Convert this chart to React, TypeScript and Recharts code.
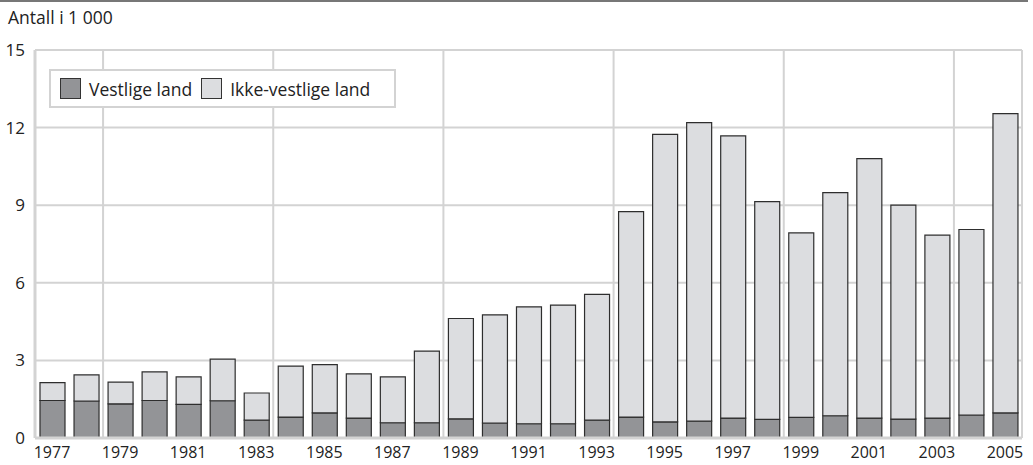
import { BarChart, Bar, XAxis, YAxis, CartesianGrid } from 'recharts';

const years = [
  1977, 1978, 1979, 1980, 1981, 1982, 1983, 1984, 1985, 1986, 1987, 1988, 1989, 1990, 1991,
  1992, 1993, 1994, 1995, 1996, 1997, 1998, 1999, 2000, 2001, 2002, 2003, 2004, 2005,
];

// thousands of persons
const vestlige = [
  1.45, 1.43, 1.32, 1.45, 1.3, 1.44, 0.69, 0.81, 0.97, 0.77, 0.59, 0.59, 0.74, 0.58, 0.55,
  0.55, 0.69, 0.81, 0.62, 0.65, 0.77, 0.72, 0.8, 0.86, 0.77, 0.73, 0.77, 0.89, 0.97,
];

const ikkeVestlige = [
  0.69, 1.01, 0.84, 1.11, 1.06, 1.61, 1.05, 1.97, 1.87, 1.71, 1.77, 2.77, 3.88, 4.18, 4.52,
  4.59, 4.86, 7.94, 11.12, 11.54, 10.91, 8.42, 7.13, 8.63, 10.03, 8.27, 7.07, 7.17, 11.57,
];

const yTicks = [0, 3, 6, 9, 12, 15];
// vertical grid lines: left edge of every fifth year's band
const gridYears = ['1979', '1984', '1989', '1994', '1999', '2004'];

const data = years.map((y, i) => ({
  year: String(y),
  vestlige: vestlige[i],
  ikkeVestlige: ikkeVestlige[i],
}));

const FONT = '"Open Sans", "DejaVu Sans", sans-serif';
const GRID = '#d3d3d3';
const DARK = '#939497';
const LIGHT = '#dcdde0';

function verticalLines(props: any) {
  const { xAxis, offset } = props;
  const right = offset.left + offset.width;
  const scale = xAxis && xAxis.scale;
  const xs = gridYears.map((y) => {
    if (typeof scale === 'function') return scale(y);
    const idx = years.indexOf(Number(y));
    return offset.left + (offset.width / years.length) * idx;
  });
  return [...xs, right];
}

function LegendBox() {
  const item = (color: string, label: string) => (
    <div style={{ display: 'flex', alignItems: 'center', marginRight: 9 }}>
      <span
        style={{
          display: 'inline-block',
          width: 21,
          height: 21,
          background: color,
          border: '1px solid #333',
          boxSizing: 'border-box',
          marginRight: 8,
        }}
      />
      <span>{label}</span>
    </div>
  );
  return (
    <div
      style={{
        position: 'absolute',
        left: 49,
        top: 69,
        display: 'flex',
        alignItems: 'center',
        background: '#fff',
        border: `2px solid ${GRID}`,
        padding: '0 9px',
        height: 39,
        boxSizing: 'border-box',
        width: 347,
        fontFamily: FONT,
        fontSize: 17.5,
        color: '#222',
      }}
    >
      {item(DARK, 'Vestlige land')}
      {item(LIGHT, 'Ikke-vestlige land')}
    </div>
  );
}

export default function App() {
  return (
    <div style={{ position: 'absolute', left: 0, top: 0, width: 1033, height: 465, background: '#fff' }}>
      <BarChart
        width={1033}
        height={465}
        data={data}
        margin={{ top: 50, right: 11, bottom: 0, left: 0 }}
        barSize={25}
      >
        <CartesianGrid
          stroke={GRID}
          strokeWidth={2}
          verticalCoordinatesGenerator={verticalLines}
        />
        <XAxis
          dataKey="year"
          interval={1}
          height={27}
          tickSize={8}
          tickMargin={1}
          tickLine={false}
          axisLine={{ stroke: GRID, strokeWidth: 3 }}
          tick={{ fill: '#222', fontSize: 16, fontFamily: FONT }}
        />
        <YAxis
          domain={[0, 15]}
          ticks={yTicks}
          width={35}
          tickSize={8}
          tickMargin={2}
          tickLine={false}
          axisLine={{ stroke: GRID, strokeWidth: 3 }}
          tick={{ fill: '#222', fontSize: 17, fontFamily: FONT }}
        />
        <Bar
          dataKey="vestlige"
          name="Vestlige land"
          stackId="a"
          fill={DARK}
          stroke="#2e2e2e"
          strokeWidth={1.2}
          isAnimationActive={false}
        />
        <Bar
          dataKey="ikkeVestlige"
          name="Ikke-vestlige land"
          stackId="a"
          fill={LIGHT}
          stroke="#2e2e2e"
          strokeWidth={1.2}
          isAnimationActive={false}
        />
      </BarChart>
      <div style={{ position: 'absolute', left: 0, top: 0, width: 1028, height: 2, background: '#777' }} />
      <div
        style={{
          position: 'absolute',
          left: 8,
          top: 6,
          fontFamily: FONT,
          fontSize: 17.5,
          color: '#222',
          lineHeight: '22px',
        }}
      >
        Antall i 1 000
      </div>
      <LegendBox />
    </div>
  );
}
